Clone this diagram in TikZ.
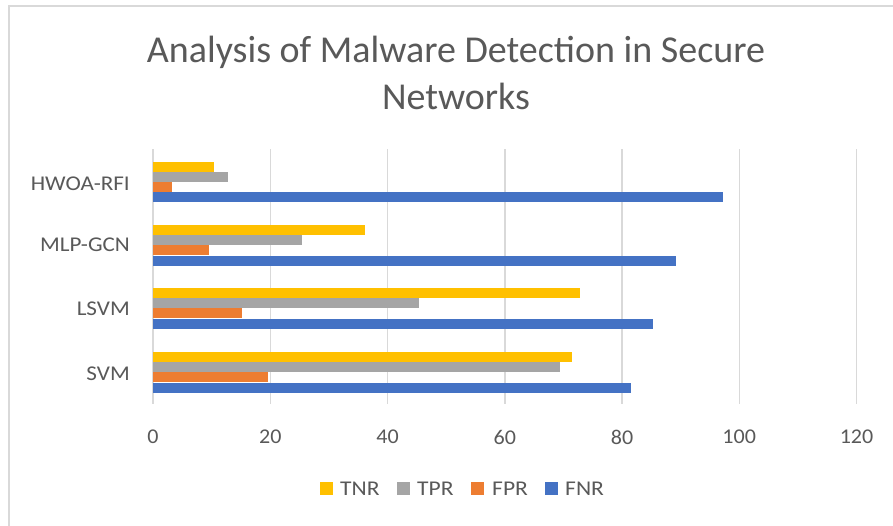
\documentclass[tikz,border=0pt]{standalone}
\usepackage{fontspec}
\setmainfont{Carlito}
\definecolor{cTNR}{HTML}{FFC000}
\definecolor{cTPR}{HTML}{A5A5A5}
\definecolor{cFPR}{HTML}{ED7D31}
\definecolor{cFNR}{HTML}{4472C4}
\definecolor{txt}{HTML}{595959}
\definecolor{grid}{HTML}{D9D9D9}
\newcommand\widetext[2]{\scalebox{#1}[1]{#2}}
\begin{document}
\begin{tikzpicture}[x=1pt,y=-1pt,
  ticklab/.style={text=txt,font=\fontsize{21}{24}\selectfont,inner sep=0pt},
  catlab/.style={text=txt,font=\fontsize{21}{24}\selectfont,inner sep=0pt,anchor=east},
  legkey/.style={fill=#1,minimum size=13pt,inner sep=0pt},
  leglab/.style={text=txt,font=\fontsize{21}{24}\selectfont,inner sep=0pt,anchor=west},
  titlelab/.style={text=txt,font=\fontsize{38}{45}\selectfont,inner sep=0pt,anchor=base},
  gridline/.style={draw=grid,line width=1.5pt}]
\useasboundingbox (0,0) rectangle (893,525);
\fill[white] (0,0) rectangle (893,525);
% chart frame
\draw[grid,line width=1.2pt] (9,530) -- (9,6) -- (900,6);
% title
\node[titlelab] (title1) at (456,62) {Analysis of Malware Detection in Secure};
\node[titlelab] (title2) at (456,109) {Networks};
% grid and value axis labels (1 unit = 5.8625pt)
\foreach \v in {0,20,...,120}{
  \draw[gridline] ({153+5.8625*\v},149) -- ({153+5.8625*\v},404);
  \node[ticklab] (t\v) at ({153+5.8625*\v},437) {\widetext{1.05}{\v}};
}
% bars: TNR, TPR, FPR, FNR per group (group top y)
\newcommand\bargroup[5]{%
  \fill[cTNR] (153,#1) rectangle ({153+5.8625*#2},#1+10);
  \fill[cTPR] (153,#1+10) rectangle ({153+5.8625*#3},#1+20.3);
  \fill[cFPR] (153,#1+20.3) rectangle ({153+5.8625*#4},#1+30.3);
  \fill[cFNR] (153,#1+30.6) rectangle ({153+5.8625*#5},#1+40.6);
}
\bargroup{161.5}{10.4}{12.8}{3.2}{97.3}
\bargroup{225}{36.1}{25.4}{9.6}{89.2}
\bargroup{288}{72.9}{45.4}{15.1}{85.3}
\bargroup{352}{71.5}{69.5}{19.6}{81.6}
% category labels
\node[catlab] (c1) at (130,184) {\widetext{1.1}{HWOA-RFI}};
\node[catlab] (c2) at (130,245) {\widetext{1.1}{MLP-GCN}};
\node[catlab] (c3) at (130,309) {\widetext{1.1}{LSVM}};
\node[catlab] (c4) at (130,374) {\widetext{1.1}{SVM}};
% legend
\node[legkey=cTNR] (k1) at (326.5,488.5) {};
\node[leglab] (l1) at (340,489) {\widetext{1.12}{TNR}};
\node[legkey=cTPR] (k2) at (403.5,488.5) {};
\node[leglab] (l2) at (417,489) {\widetext{1.12}{TPR}};
\node[legkey=cFPR] (k3) at (477.5,488.5) {};
\node[leglab] (l3) at (492,489) {\widetext{1.12}{FPR}};
\node[legkey=cFNR] (k4) at (551.5,488.5) {};
\node[leglab] (l4) at (565,489) {\widetext{1.12}{FNR}};
\end{tikzpicture}
\end{document}
